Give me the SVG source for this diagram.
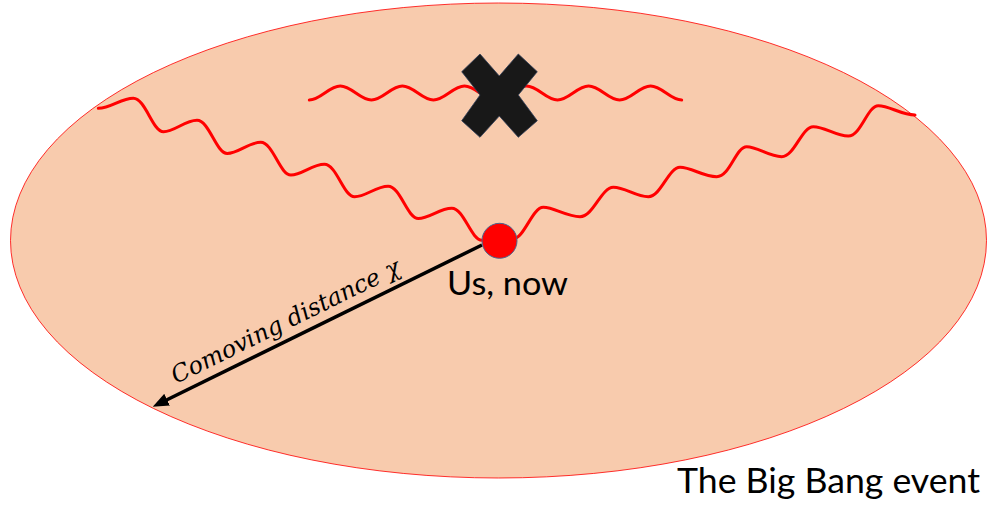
<svg xmlns="http://www.w3.org/2000/svg" width="988" height="505" viewBox="0 0 988 505">
  <style>
    .wave { fill: none; stroke: #FF0000; stroke-width: 3; stroke-linecap: round; stroke-linejoin: round; }
    .label { font-family: Lato, "Open Sans", "Liberation Sans", sans-serif; fill: #000000; }
    .math { font-family: "DejaVu Serif", "Liberation Serif", serif; font-style: italic; fill: #000000; }
  </style>
  <defs>
    <marker id="arrowhead" markerUnits="userSpaceOnUse" markerWidth="16" markerHeight="13" refX="8" refY="6.5" orient="auto">
      <path d="M0,0 L16,6.5 L0,13 Z" fill="#000000"/>
    </marker>
  </defs>

  <g id="big-bang">
    <ellipse cx="498.5" cy="240.5" rx="488" ry="237.5" fill="#F8CBAD" stroke="#FF0000" stroke-width="1" stroke-opacity="0.8"/>
    <text class="label" x="677" y="493" font-size="35" textLength="303" lengthAdjust="spacingAndGlyphs">The Big Bang event</text>
  </g>

  <g id="connectors">
    <path id="wave-top" class="wave" d="M309.3,100 C320.6,100 329,86 340.3,86 S360.1,100 371.4,100 S391.1,86 402.4,86 S422.1,100 433.4,100 S453.2,86 464.5,86 S484.2,100 495.5,100 S515.2,86 526.5,86 S546.2,100 557.5,100 S577.3,86 588.6,86 S608.3,100 619.6,100 S639.3,86 650.6,86 S670.4,100 681.7,100"/>
    <path id="wave-left" class="wave" d="M98.3,108.3 C111,108.3 121.1,98.3 133.3,98.3 S152.5,131.7 163.5,131.7 S184.8,120.3 197,120.3 S216.2,153.4 227.2,153.4 S248.5,142.3 260.7,142.3 S279.9,175.1 290.9,175.1 S312.2,164.3 324.4,164.3 S343.6,196.8 354.6,196.8 S375.9,186.3 388.1,186.3 S407.3,218.5 418.3,218.5 S439.6,208.3 451.8,208.3 S471,240.2 482,240.2"/>
    <path id="wave-right" class="wave" d="M513,239 C523.9,239 532.4,207.3 543.3,207.3 S566.6,216.7 580,216.7 S601.2,187.3 613.3,187.3 S635.6,196.7 648.3,196.7 S668.5,167.3 680,167.3 S703.3,176.7 716.7,176.7 S735.8,146.7 746.7,146.7 S769,156.7 781.7,156.7 S801.8,126.7 813.3,126.7 S835.6,136 848.3,136 S867.4,105.7 878.3,105.7 S901.6,115 915,115"/>
    <line id="comoving-arrow" x1="482" y1="245" x2="159.9" y2="403.2" stroke="#000000" stroke-width="3.5" marker-end="url(#arrowhead)"/>
    <text class="math" transform="translate(176,384) rotate(-26.2)" x="0" y="0" font-size="24" textLength="252" lengthAdjust="spacingAndGlyphs">Comoving distance χ</text>
  </g>

  <g id="cross">
    <polygon points="461.7,71.7 480,54 499.3,76 518.3,54 537.3,71.7 518.3,95 537.3,120.7 518.3,137.3 499.3,116 480,137.3 461.7,120.7 480,95" fill="#181818" stroke="#2F3F5A" stroke-width="0.8" stroke-linejoin="miter"/>
  </g>

  <g id="us-now">
    <circle cx="499.5" cy="240.8" r="17.5" fill="#FF0000" stroke="#4A6690" stroke-width="1"/>
    <text class="label" x="447" y="295" font-size="32.5" textLength="121" lengthAdjust="spacingAndGlyphs">Us, now</text>
  </g>
</svg>
